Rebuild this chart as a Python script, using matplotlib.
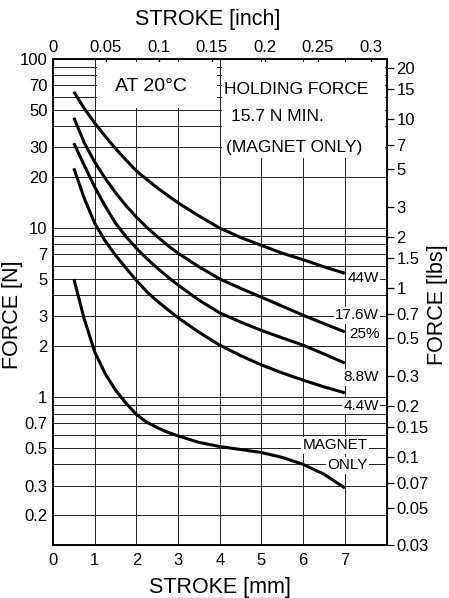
import numpy as np
import matplotlib
matplotlib.use("Agg")
import matplotlib.pyplot as plt
from matplotlib.patches import Rectangle
from matplotlib.ticker import NullLocator

plt.rcParams['font.family'] = ['Liberation Sans', 'DejaVu Sans']

# stroke [mm] where the curves were read
stroke = [0.5, 0.75, 1, 1.25, 1.5, 1.75, 2, 2.25, 2.5, 2.75, 3, 3.5, 4, 4.5, 5, 5.5, 6, 6.5, 7]

# force [N]
force_44w = [64, 51, 41.8, 35, 29.5, 25.3, 21.8, 19.4, 17.3, 15.6, 14.1,
             11.8, 10.0, 8.8, 7.9, 7.1, 6.5, 5.9, 5.4]
force_176w = [45, 32, 24.6, 19.7, 16.2, 13.6, 11.6, 10.1, 8.9, 7.9, 7.1,
              5.9, 5.0, 4.4, 3.9, 3.45, 3.05, 2.72, 2.43]
force_88w = [31.8, 23.5, 17.5, 13.5, 10.7, 8.9, 7.6, 6.6, 5.8, 5.15, 4.6,
             3.75, 3.15, 2.78, 2.48, 2.24, 2.03, 1.8, 1.59]
force_44w_low = [22.6, 15, 10.7, 8.4, 6.9, 5.8, 4.9, 4.2, 3.7, 3.3, 2.95,
                 2.42, 2.03, 1.76, 1.55, 1.39, 1.26, 1.15, 1.06]
force_magnet = [5.0, 2.9, 1.85, 1.38, 1.1, 0.92, 0.79, 0.71, 0.66, 0.62, 0.59,
                0.54, 0.51, 0.49, 0.47, 0.44, 0.40, 0.35, 0.29]

curves = [force_44w, force_176w, force_88w, force_44w_low, force_magnet]

# tick labels
n_ticks = [100, 70, 50, 30, 20, 10, 7, 5, 3, 2, 1, 0.7, 0.5, 0.3, 0.2]
n_labels = ['100', '70', '50', '30', '20', '10', '7', '5', '3', '2', '1', '0.7', '0.5', '0.3', '0.2']
lb_ticks = [20, 15, 10, 7, 5, 3, 2, 1.5, 1, 0.7, 0.5, 0.3, 0.2, 0.15, 0.1, 0.07, 0.05, 0.03]
lb_labels = ['20', '15', '10', '7', '5', '3', '2', '1.5', '1', '0.7', '0.5', '0.3', '0.2',
             '0.15', '0.1', '0.07', '0.05', '0.03']
mm_ticks = [0, 1, 2, 3, 4, 5, 6, 7]
inch_ticks = [0, 0.05, 0.1, 0.15, 0.2, 0.25, 0.3]
inch_labels = ['0', '0.05', '0.1', '0.15', '0.2', '0.25', '0.3']

grid_n = [0.2, 0.3, 0.4, 0.5, 0.6, 0.7, 0.8, 0.9, 1, 2, 3, 4, 5, 6, 7, 8, 9, 10,
          20, 30, 40, 50, 60, 70, 80, 90]
grid_mm = [1, 2, 3, 4, 5, 6, 7]

N_PER_LB = 4.448

fig = plt.figure(figsize=(4.49, 5.98), dpi=100)
ax = fig.add_axes([0.118, 0.0886, 0.743, 0.8127])
ax.set_yscale('log')
ax.set_xlim(0, 8)
ax.set_ylim(0.03 * N_PER_LB, 100)

for g in grid_n:
    ax.axhline(g, color='#222222', lw=0.7, zorder=1)
for g in grid_mm:
    ax.axvline(g, color='#222222', lw=0.7, zorder=1)

# white boxes behind the notes
ax.add_patch(Rectangle((1.06, 51.3), 2.88, 96 - 51.3, facecolor='white', edgecolor='none', zorder=2))
ax.add_patch(Rectangle((4.05, 25.9), 3.9, 96 - 25.9, facecolor='white', edgecolor='none', zorder=2))

for f in curves:
    ax.plot(stroke, f, color='black', lw=2.2, solid_capstyle='butt', zorder=3)

ax.text(2.35, 69, 'AT 20°C', fontsize=14, ha='center', va='center', zorder=4)
ax.text(4.1, 65.6, 'HOLDING FORCE', fontsize=12.5, ha='left', va='center', zorder=4)
ax.text(4.27, 46, '15.7 N MIN.', fontsize=12.5, ha='left', va='center', zorder=4)
ax.text(4.15, 30.1, '(MAGNET ONLY)', fontsize=12.5, ha='left', va='center', zorder=4)

box = dict(facecolor='white', edgecolor='none', pad=1)
ax.text(7.82, 5.06, '44W', fontsize=11, ha='right', va='center', bbox=box, zorder=4)
ax.text(7.82, 3.05, '17.6W', fontsize=11, ha='right', va='center', bbox=box, zorder=4)
ax.text(7.84, 2.36, '25%', fontsize=11, ha='right', va='center', bbox=box, zorder=4)
ax.text(7.82, 1.31, '8.8W', fontsize=11, ha='right', va='center', bbox=box, zorder=4)
ax.text(7.82, 0.885, '4.4W', fontsize=11, ha='right', va='center', bbox=box, zorder=4)
ax.text(7.55, 0.52, 'MAGNET', fontsize=11, ha='right', va='center', bbox=box, zorder=4)
ax.text(7.55, 0.396, 'ONLY', fontsize=11, ha='right', va='center', bbox=box, zorder=4)

# left / bottom
ax.set_yticks(n_ticks, n_labels)
ax.yaxis.set_minor_locator(NullLocator())
ax.set_xticks(mm_ticks, [str(t) for t in mm_ticks])
ax.tick_params(axis='both', length=0, labelsize=12)
ax.tick_params(axis='x', pad=6)
ax.tick_params(axis='y', pad=4)
for s in ax.spines.values():
    s.set_linewidth(1.4)

# right axis in lbs
sec_y = ax.secondary_yaxis('right', functions=(lambda n: n / N_PER_LB, lambda l: l * N_PER_LB))
sec_y.set_yticks(lb_ticks, lb_labels)
sec_y.yaxis.set_minor_locator(NullLocator())
sec_y.tick_params(length=5, width=0.9, labelsize=12, pad=2)

# top axis in inch
sec_x = ax.secondary_xaxis('top', functions=(lambda x: x / 25.4, lambda x: x * 25.4))
sec_x.set_xticks(inch_ticks, inch_labels)
sec_x.xaxis.set_minor_locator(NullLocator())
sec_x.tick_params(direction='in', length=5, width=0.9, labelsize=12, pad=3)

fig.text(208 / 449, 1 - 20 / 598, 'STROKE [inch]', fontsize=15.5, ha='center', va='center')
fig.text(220 / 449, 1 - 587 / 598, 'STROKE [mm]', fontsize=15.5, ha='center', va='center')
fig.text(13 / 449, 1 - 315 / 598, 'FORCE [N]', fontsize=15.5, ha='center', va='center', rotation=90)
fig.text(437 / 449, 1 - 305 / 598, 'FORCE [lbs]', fontsize=15.5, ha='center', va='center', rotation=90)

fig.savefig('out.png', dpi=100, facecolor='white')
